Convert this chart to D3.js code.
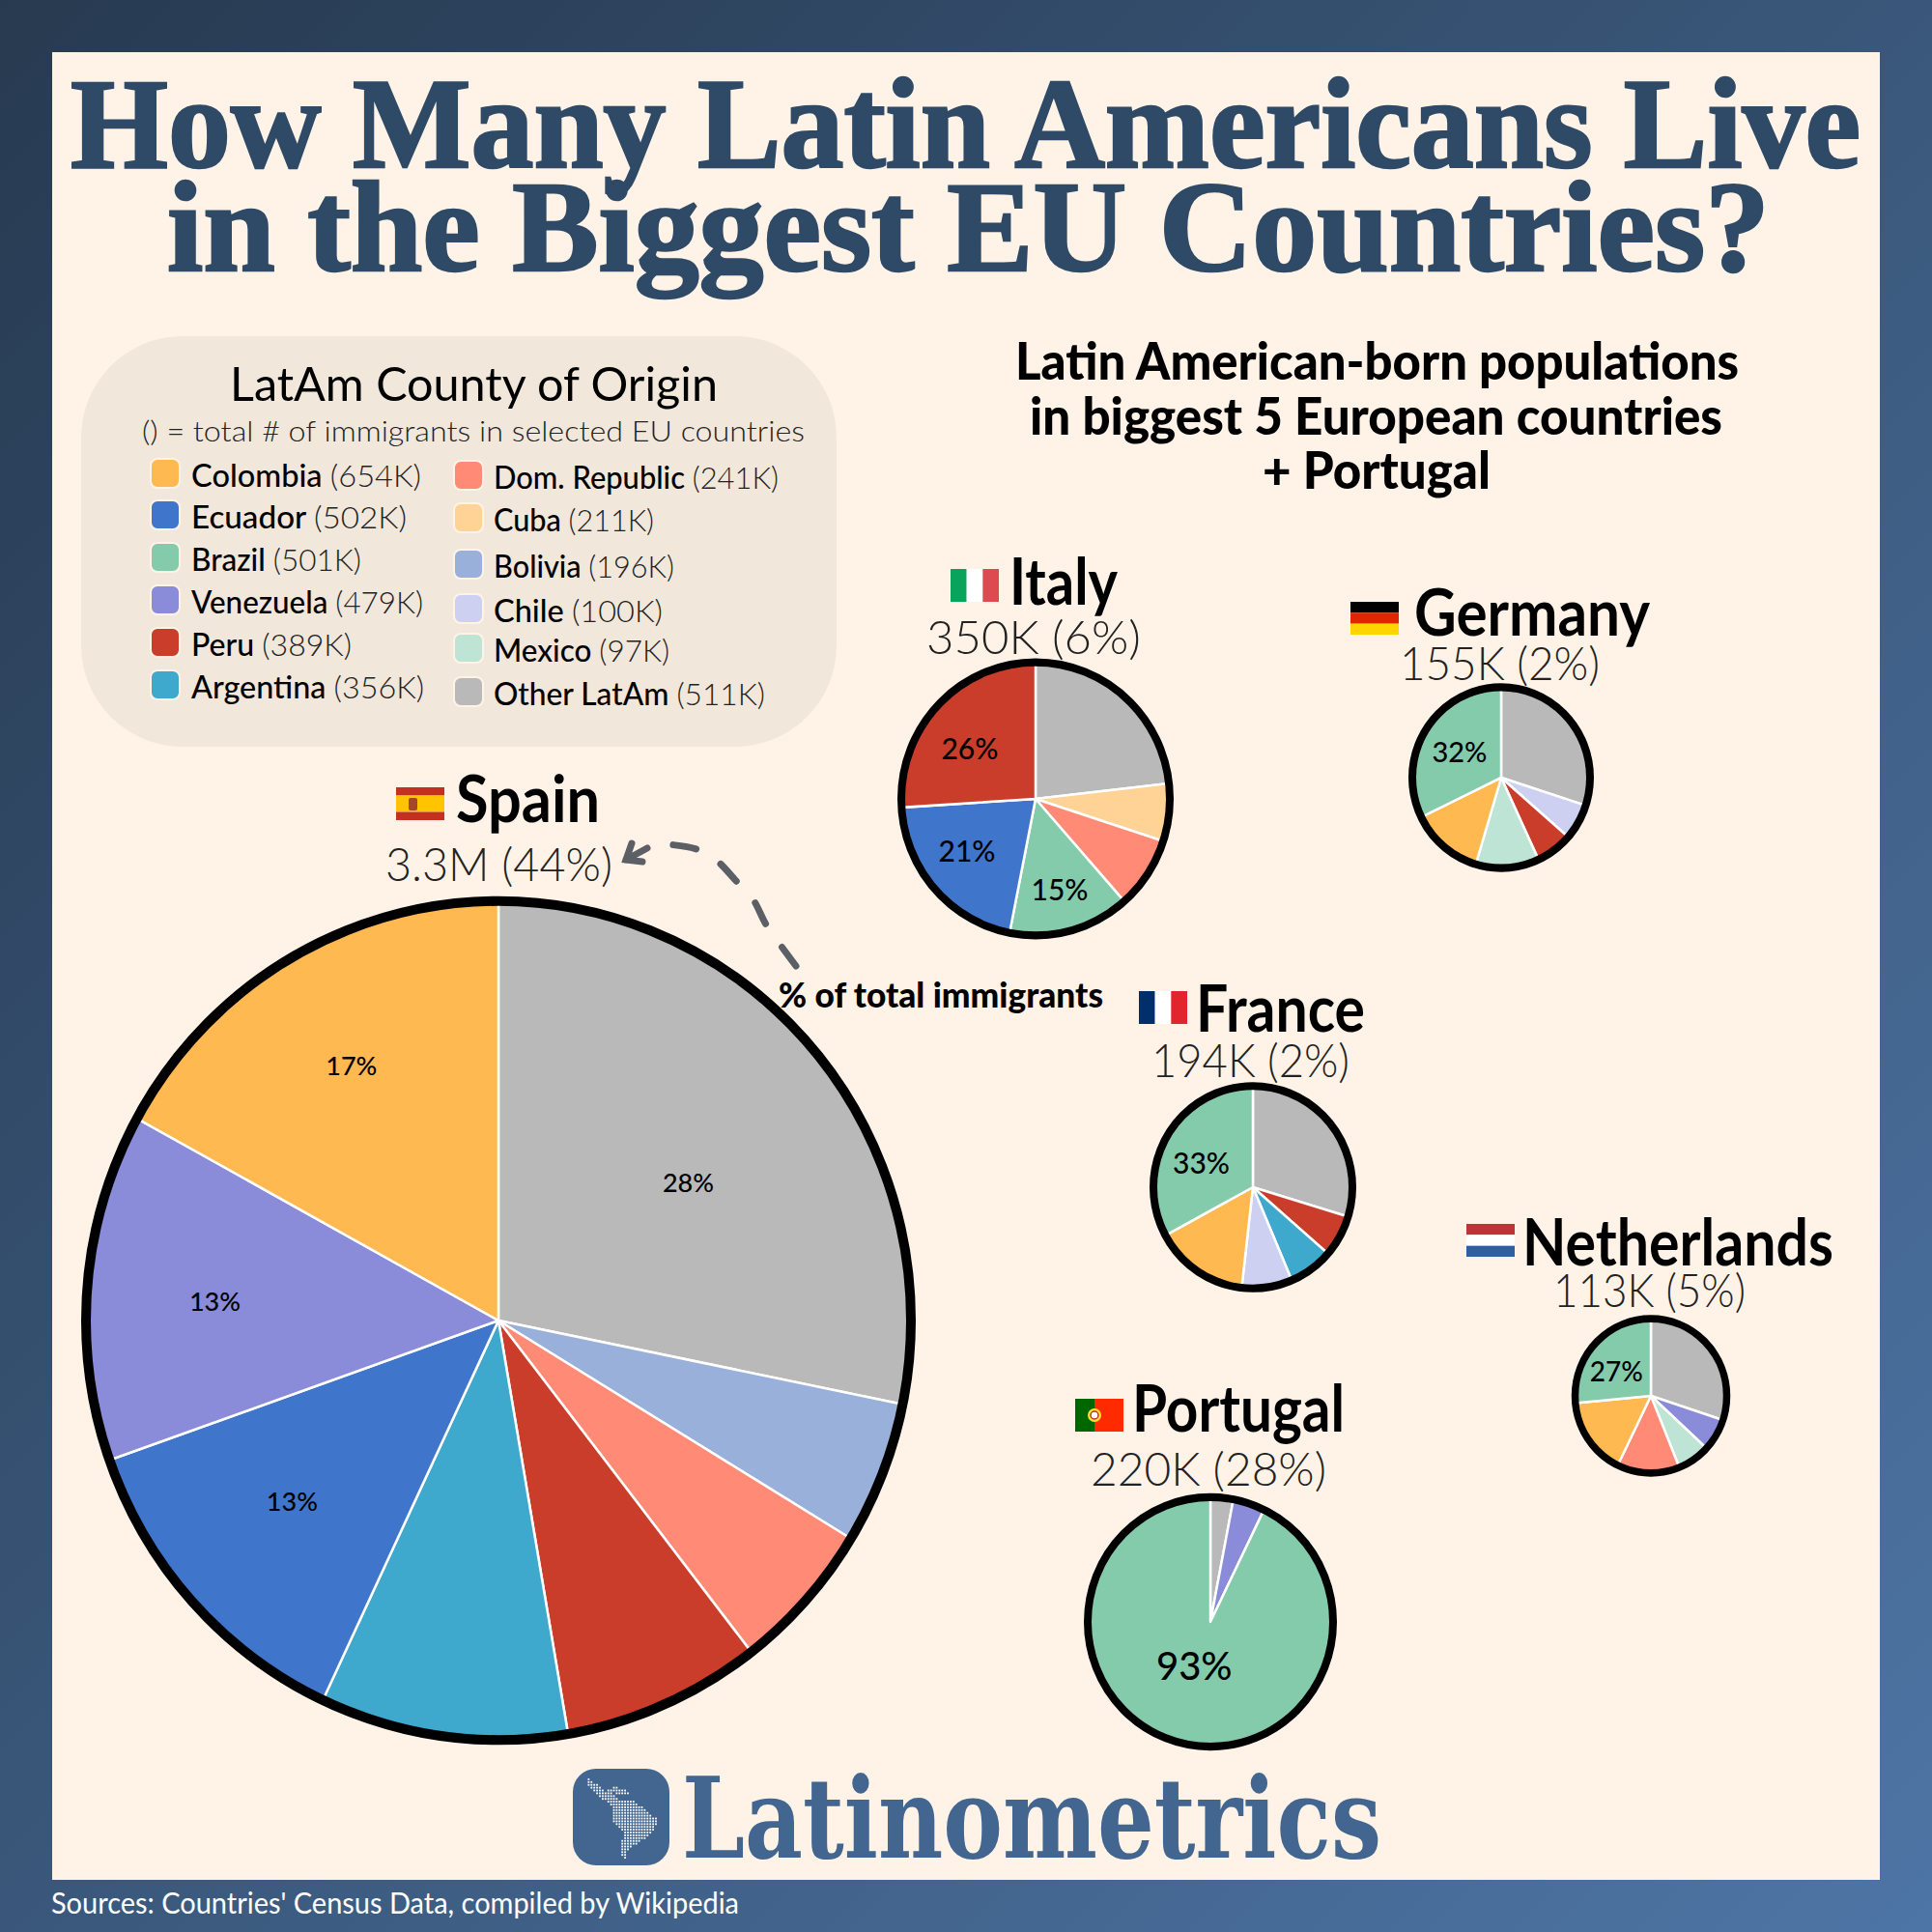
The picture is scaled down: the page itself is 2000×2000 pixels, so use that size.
<!DOCTYPE html>
<html>
<head>
<meta charset="utf-8">
<script src="https://cdn.jsdelivr.net/npm/d3@7"></script>
<style>
  html, body { margin: 0; padding: 0; background: #2a3e55; }
  svg { display: block; }
  text { font-family: Lato, "Open Sans", sans-serif; }
</style>
</head>
<body>
<svg id="chart" width="2000" height="2000"></svg>
<script>
// legend values, thousands of immigrants
const originNames = ["Colombia", "Ecuador", "Brazil", "Venezuela", "Peru", "Argentina",
  "Dom. Republic", "Cuba", "Bolivia", "Chile", "Mexico", "Other LatAm"];
const originTotals = ["654K", "502K", "501K", "479K", "389K", "356K",
  "241K", "211K", "196K", "100K", "97K", "511K"];
const originColors = ["#ffb950", "#4075cc", "#84cbac", "#8a8bd9", "#cb3d2b", "#3fa9cd",
  "#ff8a75", "#ffd296", "#98b0da", "#cdd0f0", "#bde4d4", "#b9b9b9"];

// slices, clockwise from 12 o'clock, % of that country's total
const spainOrigins = ["Other LatAm", "Bolivia", "Dom. Republic", "Peru", "Argentina", "Ecuador", "Venezuela", "Colombia"];
const spainShares = [28.2, 5.5, 5.8, 7.8, 9.7, 12.6, 13.4, 17.0];
const italyOrigins = ["Other LatAm", "Cuba", "Dom. Republic", "Brazil", "Ecuador", "Peru"];
const italyShares = [23.2, 6.8, 8.5, 14.6, 20.9, 26.0];
const germanyOrigins = ["Other LatAm", "Chile", "Peru", "Mexico", "Colombia", "Brazil"];
const germanyShares = [30.0, 6.4, 6.7, 11.5, 13.2, 32.2];
const franceOrigins = ["Other LatAm", "Peru", "Argentina", "Chile", "Colombia", "Brazil"];
const franceShares = [29.7, 6.7, 7.2, 8.2, 15.3, 32.9];
const netherlandsOrigins = ["Other LatAm", "Venezuela", "Mexico", "Dom. Republic", "Colombia", "Brazil"];
const netherlandsShares = [30.1, 6.8, 7.0, 13.3, 16.3, 26.5];
const portugalOrigins = ["Other LatAm", "Venezuela", "Brazil"];
const portugalShares = [3.0, 4.2, 92.8];

const w = 2000, h = 2000;
const svg = d3.select("#chart");
const defs = svg.append("defs");

const color = d3.scaleOrdinal(originNames, originColors);

// text squeezed to the width it has in the picture
function fit(sel, x0, x1) {
  return sel.attr("x", x0).attr("textLength", x1 - x0).attr("lengthAdjust", "spacingAndGlyphs");
}

const grad = defs.append("linearGradient").attr("id", "bg")
  .attr("x1", 0).attr("y1", 0).attr("x2", 1).attr("y2", 1);
grad.append("stop").attr("offset", 0).attr("stop-color", "#273a50");
grad.append("stop").attr("offset", 1).attr("stop-color", "#4d75a5");

svg.append("rect").attr("width", w).attr("height", h).attr("fill", "url(#bg)");
svg.append("rect").attr("x", 54).attr("y", 54).attr("width", 1892).attr("height", 1892).attr("fill", "#fff3e7");

// title
const titleFont = "'Liberation Serif', serif";
[["How Many Latin Americans Live", 73, 1926, 173], ["in the Biggest EU Countries?", 173, 1832, 280]].forEach(t => {
  fit(svg.append("text"), t[1], t[2])
    .attr("y", t[3])
    .attr("font-size", 133)
    .attr("font-weight", 700)
    .style("font-family", titleFont)
    .attr("fill", "#2f4a66")
    .attr("stroke", "#2f4a66")
    .attr("stroke-width", 2.5)
    .text(t[0]);
});

// legend box
svg.append("rect").attr("x", 84).attr("y", 348).attr("width", 782).attr("height", 425)
  .attr("rx", 105).attr("fill", "#f2e7db");
fit(svg.append("text"), 238, 743).attr("y", 415).attr("font-size", 48).attr("fill", "#000").text("LatAm County of Origin");
fit(svg.append("text"), 147, 833).attr("y", 457).attr("font-size", 30).attr("font-weight", 300).attr("fill", "#222")
  .text("() = total # of immigrants in selected EU countries");

const legendX = [[156, 198], [470, 511]];
const legendEnd = [436, 421, 374, 438, 364, 439, 806, 677, 698, 686, 693, 792];
const legendBase = [504, 547, 591, 635, 679, 723, 506, 550, 598, 644, 685, 730];

originNames.forEach((name, i) => {
  const col = legendX[i < 6 ? 0 : 1];
  svg.append("rect")
    .attr("x", col[0]).attr("y", legendBase[i] - 29)
    .attr("width", 30).attr("height", 30).attr("rx", 7)
    .attr("fill", color(name)).attr("stroke", "#fff3e7").attr("stroke-width", 2);
  const t = fit(svg.append("text"), col[1], legendEnd[i]).attr("y", legendBase[i]).attr("font-size", 32);
  t.append("tspan").attr("font-weight", 500).attr("fill", "#000").text(name + " ");
  t.append("tspan").attr("font-weight", 300).attr("fill", "#222").text("(" + originTotals[i] + ")");
});

// subtitle
[["Latin American-born populations", 1051, 1800, 393],
 ["in biggest 5 European countries", 1066, 1783, 450],
 ["+ Portugal", 1307, 1543, 506]].forEach(t => {
  fit(svg.append("text"), t[1], t[2]).attr("y", t[3]).attr("font-size", 53).attr("font-weight", 900)
    .attr("fill", "#000").text(t[0]);
});

// flags: stripes as [colour, weight]
const flags = {
  Spain: { dir: "h", bands: [["#c4301f", 1], ["#ffc400", 2], ["#c4301f", 1]] },
  Italy: { dir: "v", bands: [["#0aa35b", 1], ["#ffffff", 1], ["#dd4b50", 1]] },
  Germany: { dir: "h", bands: [["#000000", 1], ["#e32400", 1], ["#ffd500", 1]] },
  France: { dir: "v", bands: [["#002f6c", 1], ["#ffffff", 1], ["#e1252f", 1]] },
  Netherlands: { dir: "h", bands: [["#bc3339", 1], ["#ffffff", 1], ["#2f5da3", 1]] },
  Portugal: { dir: "v", bands: [["#006600", 2], ["#ff2a00", 3]] }
};

function drawFlag(name, x, y, fw, fh) {
  const f = flags[name];
  const g = svg.append("g").attr("transform", `translate(${x},${y})`);
  const total = d3.sum(f.bands, b => b[1]);
  let pos = 0;
  f.bands.forEach(b => {
    const len = b[1] / total;
    g.append("rect")
      .attr("x", f.dir === "v" ? pos * fw : 0)
      .attr("y", f.dir === "h" ? pos * fh : 0)
      .attr("width", f.dir === "v" ? len * fw : fw)
      .attr("height", f.dir === "h" ? len * fh : fh)
      .attr("fill", b[0]);
    pos += len;
  });
  if (name === "Spain") {
    g.append("rect").attr("x", 13).attr("y", 11).attr("width", 9).attr("height", 13).attr("rx", 2).attr("fill", "#a5452c");
  }
  if (name === "Portugal") {
    g.append("circle").attr("cx", 20).attr("cy", 17).attr("r", 7).attr("fill", "#ffe135");
    g.append("circle").attr("cx", 20).attr("cy", 17).attr("r", 4).attr("fill", "#fff").attr("stroke", "#c4301f").attr("stroke-width", 1.5);
  }
}

// where each country sits; labels = [share of radius, angle nudge in degrees]
const pies = [
  { name: "Spain", origins: spainOrigins, shares: spainShares, value: "3.3M (44%)",
    cx: 516, cy: 1367, r: 427, ring: 10, labelSize: 27,
    labels: { "Other LatAm": [0.569, 3.2], "Colombia": [0.713, 0.6], "Venezuela": [0.689, -0.8], "Ecuador": [0.665, 0.9] },
    flagXY: [410, 815], head: [472, 621, 851], val: [399, 634, 912] },
  { name: "Italy", origins: italyOrigins, shares: italyShares, value: "350K (6%)",
    cx: 1072, cy: 827, r: 139, ring: 8, labelSize: 30,
    labels: { "Peru": [0.614, -6.1], "Ecuador": [0.642, 3.9], "Brazil": [0.70, 0.2] },
    flagXY: [984, 589], head: [1045, 1157, 626], val: [959, 1181, 677] },
  { name: "Germany", origins: germanyOrigins, shares: germanyShares, value: "155K (2%)",
    cx: 1554, cy: 805, r: 92, ring: 8, labelSize: 29,
    labels: { "Brazil": [0.552, 0] },
    flagXY: [1398, 623], head: [1464, 1708, 658], val: [1449, 1656, 704] },
  { name: "France", origins: franceOrigins, shares: franceShares, value: "194K (2%)",
    cx: 1297, cy: 1229, r: 103, ring: 8, labelSize: 30,
    labels: { "Brazil": [0.573, -5.8] },
    flagXY: [1179, 1026], head: [1238, 1413, 1068], val: [1192, 1397, 1115] },
  { name: "Netherlands", origins: netherlandsOrigins, shares: netherlandsShares, value: "113K (5%)",
    cx: 1709, cy: 1445, r: 78.5, ring: 7.5, labelSize: 28,
    labels: { "Brazil": [0.558, -7] },
    flagXY: [1518, 1267], head: [1576, 1898, 1310], val: [1608, 1807, 1353] },
  { name: "Portugal", origins: portugalOrigins, shares: portugalShares, value: "220K (28%)",
    cx: 1253, cy: 1679, r: 127, ring: 8, labelSize: 40,
    labels: { "Brazil": [0.386, 7] },
    flagXY: [1113, 1448], head: [1172, 1392, 1482], val: [1129, 1373, 1538] }
];

const pie = d3.pie().sort(null).value(d => d.share);
const squash = 1.017; // the pies in the picture are a touch taller than wide

pies.forEach(p => {
  drawFlag(p.name, p.flagXY[0], p.flagXY[1], 50, 34);
  fit(svg.append("text"), p.head[0], p.head[1]).attr("y", p.head[2])
    .attr("font-size", 67).attr("font-weight", 700).attr("fill", "#000").text(p.name);
  fit(svg.append("text"), p.val[0], p.val[1]).attr("y", p.val[2])
    .attr("font-size", 48).attr("font-weight", 300).attr("fill", "#222").text(p.value);
});

pies.forEach(p => {
  const rows = p.origins.map((o, i) => ({ origin: o, share: p.shares[i] }));
  const arc = d3.arc().innerRadius(0).outerRadius(p.r);
  const arcs = pie(rows);
  const g = svg.append("g").attr("transform", `translate(${p.cx},${p.cy})`);
  const disc = g.append("g").attr("transform", `scale(1,${squash})`);

  disc.selectAll("path").data(arcs).join("path")
    .attr("d", arc)
    .attr("fill", d => color(d.data.origin))
    .attr("stroke", "#fff")
    .attr("stroke-width", 2.5)
    .attr("stroke-linejoin", "round");

  disc.append("circle").attr("r", p.r).attr("fill", "none").attr("stroke", "#000").attr("stroke-width", p.ring);

  g.selectAll("text").data(arcs.filter(d => p.labels[d.data.origin])).join("text")
    .attr("transform", d => {
      const l = p.labels[d.data.origin];
      const a = (d.startAngle + d.endAngle) / 2 + l[1] * Math.PI / 180;
      return `translate(${d3.pointRadial(a, l[0] * p.r)})`;
    })
    .attr("text-anchor", "middle")
    .attr("dy", "0.36em")
    .attr("font-size", p.labelSize)
    .attr("font-weight", 500)
    .attr("fill", "#000")
    .text(d => Math.round(d.data.share) + "%");
});

// dashed arrow from the note to Spain's share
const arrowLine = d3.line().curve(d3.curveCatmullRom);
svg.append("path")
  .attr("d", arrowLine([[824, 1000], [807, 977], [793, 957], [779, 930], [763, 913], [741, 890], [721, 879], [691, 874]]))
  .attr("fill", "none").attr("stroke", "#5d5f66").attr("stroke-width", 7)
  .attr("stroke-linecap", "round").attr("stroke-dasharray", "24 30");
svg.append("path")
  .attr("d", "M654,873 L648,890 L665,892 M648,890 L670,878")
  .attr("fill", "none").attr("stroke", "#5d5f66").attr("stroke-width", 7).attr("stroke-linecap", "round");

fit(svg.append("text"), 806, 1142).attr("y", 1043).attr("font-size", 36).attr("font-weight", 900)
  .attr("fill", "#000").text("% of total immigrants");

// logo
svg.append("rect").attr("x", 593).attr("y", 1831).attr("width", 100).attr("height", 100).attr("rx", 24).attr("fill", "#426690");
const mapRows = [[0,0],[0,1],[0,3],[1,4,9,10],[2,5,7,8,9,13],[3,8,10,14],[4,9],[5,10],[7,9,10,16],[8,9,10,17],
  [9,19],[9,20],[9,21],[9,22],[9,24],[9,24],[10,24],[11,23],[12,23],[13,22],[13,21],[13,20],[12,18],[12,17],[12,15],[12,14],[12,13],[12,13],[13,13]];
const mapDots = [];
mapRows.forEach((row, r) => {
  for (let s = 0; s < row.length; s += 2) {
    for (let c = row[s]; c <= row[s + 1]; c++) mapDots.push([c, r]);
  }
});
svg.append("g").attr("transform", "translate(608.5,1841)")
  .selectAll("rect").data(mapDots).join("rect")
  .attr("x", d => d[0] * 2.9).attr("y", d => d[1] * 2.9)
  .attr("width", 1.8).attr("height", 1.8).attr("fill", "#fff");

fit(svg.append("text"), 706, 1430).attr("y", 1923).attr("font-size", 116).attr("font-weight", 700)
  .style("font-family", "'DejaVu Serif', serif").attr("fill", "#426690").text("Latinometrics");

// footer
fit(svg.append("text"), 53, 765).attr("y", 1981).attr("font-size", 30).attr("fill", "#fff")
  .text("Sources: Countries' Census Data, compiled by Wikipedia");
</script>
</body>
</html>
